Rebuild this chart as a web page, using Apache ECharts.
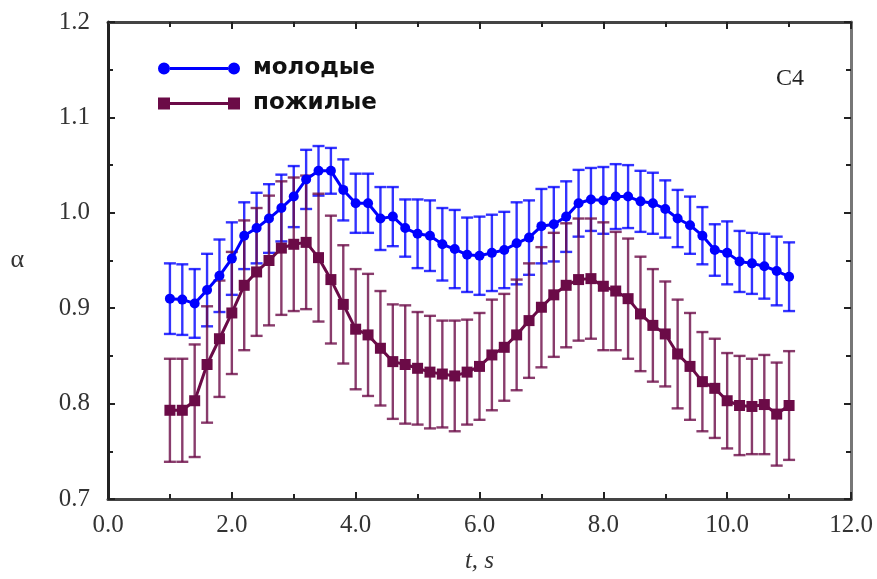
<!DOCTYPE html>
<html>
<head>
<meta charset="utf-8">
<script src="https://cdn.jsdelivr.net/npm/echarts@6/dist/echarts.min.js"></script>
<style>
  html, body { margin: 0; padding: 0; background: #fff; }
  #chart { width: 877px; height: 579px; }
</style>
</head>
<body>
<div id="chart"></div>
<script>
// время, с
const tVals = [1.0, 1.2, 1.4, 1.6, 1.8, 2.0, 2.2, 2.4, 2.6, 2.8,
    3.0, 3.2, 3.4, 3.6, 3.8, 4.0, 4.2, 4.4, 4.6, 4.8,
    5.0, 5.2, 5.4, 5.6, 5.8, 6.0, 6.2, 6.4, 6.6, 6.8,
    7.0, 7.2, 7.4, 7.6, 7.8, 8.0, 8.2, 8.4, 8.6, 8.8,
    9.0, 9.2, 9.4, 9.6, 9.8, 10.0, 10.2, 10.4, 10.6, 10.8, 11.0];

// молодые
const youngMean = [0.910, 0.909, 0.905, 0.919, 0.934, 0.952, 0.976, 0.984, 0.994, 1.005,
    1.017, 1.035, 1.044, 1.044, 1.024, 1.010, 1.010, 0.994, 0.996, 0.984,
    0.978, 0.976, 0.967, 0.962, 0.956, 0.955, 0.958, 0.961, 0.968, 0.974,
    0.986, 0.988, 0.996, 1.010, 1.014, 1.013, 1.017, 1.017, 1.012, 1.010,
    1.004, 0.994, 0.987, 0.976, 0.961, 0.958, 0.949, 0.947, 0.944, 0.939, 0.933];
const youngErr = [0.037, 0.037, 0.036, 0.038, 0.038, 0.038, 0.035, 0.037, 0.036, 0.035,
    0.032, 0.031, 0.026, 0.024, 0.032, 0.031, 0.031, 0.033, 0.031, 0.030,
    0.036, 0.037, 0.038, 0.041, 0.039, 0.041, 0.040, 0.040, 0.043, 0.039,
    0.039, 0.039, 0.037, 0.035, 0.033, 0.035, 0.034, 0.033, 0.032, 0.032,
    0.030, 0.030, 0.030, 0.030, 0.027, 0.033, 0.032, 0.032, 0.034, 0.036, 0.036];

// пожилые
const oldMean = [0.793, 0.793, 0.803, 0.841, 0.868, 0.895, 0.924, 0.938, 0.950, 0.963,
    0.967, 0.969, 0.953, 0.930, 0.904, 0.878, 0.872, 0.858, 0.844, 0.841,
    0.837, 0.833, 0.831, 0.829, 0.833, 0.839, 0.851, 0.859, 0.872, 0.887,
    0.901, 0.914, 0.924, 0.930, 0.931, 0.923, 0.918, 0.910, 0.894, 0.882,
    0.873, 0.852, 0.839, 0.823, 0.816, 0.803, 0.798, 0.797, 0.799, 0.789, 0.798];
const oldErr = [0.054, 0.054, 0.059, 0.061, 0.061, 0.064, 0.068, 0.067, 0.068, 0.070,
    0.070, 0.070, 0.067, 0.067, 0.062, 0.063, 0.064, 0.060, 0.060, 0.062,
    0.059, 0.059, 0.056, 0.058, 0.055, 0.056, 0.058, 0.056, 0.058, 0.060,
    0.063, 0.065, 0.065, 0.064, 0.063, 0.067, 0.062, 0.063, 0.060, 0.059,
    0.055, 0.057, 0.056, 0.052, 0.052, 0.050, 0.052, 0.050, 0.052, 0.054, 0.057];

const BLUE = '#0000ff';
const PLUM = '#6b0b47';

const chart = echarts.init(document.getElementById('chart'));

const meanData = (m) => tVals.map((t, i) => [t, m[i]]);
const errData = (m, e) => tVals.map((t, i) => [t, m[i] - e[i], m[i] + e[i]]);

// усы погрешностей
const errBars = (color) => (params, api) => {
    const x = api.value(0);
    const lo = api.coord([x, api.value(1)]);
    const hi = api.coord([x, api.value(2)]);
    const w = 6;
    const style = { stroke: color, lineWidth: 2.4, opacity: 0.8 };
    return {
        type: 'group',
        children: [
            { type: 'line', shape: { x1: lo[0], y1: lo[1], x2: hi[0], y2: hi[1] }, style },
            { type: 'line', shape: { x1: hi[0] - w, y1: hi[1], x2: hi[0] + w, y2: hi[1] }, style },
            { type: 'line', shape: { x1: lo[0] - w, y1: lo[1], x2: lo[0] + w, y2: lo[1] }, style }
        ]
    };
};

const labelFont = { fontFamily: 'Liberation Serif', fontSize: 25, color: '#333' };

const xBase = {
    type: 'value', min: 0, max: 12, interval: 2,
    splitLine: { show: false },
    axisLine: { onZero: false, lineStyle: { color: '#444', width: 3 } },
    axisTick: { inside: true, length: 7, lineStyle: { color: '#222', width: 2 } },
    minorTick: { show: true, splitNumber: 2, length: 5, lineStyle: { color: '#222', width: 2 } }
};
const yBase = {
    type: 'value', min: 0.7, max: 1.2, interval: 0.1,
    splitLine: { show: false },
    axisLine: { onZero: false, lineStyle: { color: '#222', width: 3 } },
    axisTick: { inside: true, length: 7, lineStyle: { color: '#222', width: 2 } },
    minorTick: { show: true, splitNumber: 2, length: 5, lineStyle: { color: '#222', width: 2 } }
};

// иконки легенды: линия с маркерами на концах
const dotIcon = 'path://M0,6a6,6 0 1,0 12,0a6,6 0 1,0 -12,0Z M12,4.5L70,4.5L70,7.5L12,7.5Z M70,6a6,6 0 1,0 12,0a6,6 0 1,0 -12,0Z';
const sqIcon = 'path://M0,0L12,0L12,12L0,12Z M12,4.5L70,4.5L70,7.5L12,7.5Z M70,0L82,0L82,12L70,12Z';

chart.setOption({
    animation: false,
    backgroundColor: '#fff',
    grid: { left: 108, right: 26, top: 22, bottom: 73 },
    title: {
        text: 'C4', right: 68, top: 62,
        textStyle: { fontFamily: 'Liberation Serif', fontSize: 24, fontWeight: 'normal', color: '#222' }
    },
    legend: {
        orient: 'vertical', left: 153, top: 52,
        itemWidth: 82, itemHeight: 12, itemGap: 12,
        textStyle: { fontFamily: 'DejaVu Sans', fontSize: 23, fontWeight: 'bold', color: '#111', padding: [0, 0, 0, 8] },
        data: [
            { name: 'молодые', icon: dotIcon },
            { name: 'пожилые', icon: sqIcon }
        ]
    },
    xAxis: [
        {
            ...xBase, position: 'bottom',
            name: 't, s', nameLocation: 'middle', nameGap: 50,
            nameTextStyle: { fontFamily: 'Liberation Serif', fontSize: 25, fontStyle: 'italic', color: '#333' },
            axisLabel: { ...labelFont, margin: 14, formatter: v => v.toFixed(1) }
        },
        { ...xBase, position: 'top', axisLabel: { show: false } }
    ],
    yAxis: [
        {
            ...yBase, position: 'left',
            name: 'α', nameLocation: 'middle', nameGap: 84, nameRotate: 0,
            nameTextStyle: { fontFamily: 'Liberation Serif', fontSize: 26, color: '#333' },
            axisLabel: { ...labelFont, margin: 18, formatter: v => v.toFixed(1) }
        },
        {
            ...yBase, position: 'right',
            axisLine: { onZero: false, lineStyle: { color: '#777', width: 3 } },
            axisLabel: { show: false }
        }
    ],
    series: [
        {
            type: 'custom', name: 'err-young', silent: true,
            renderItem: errBars(BLUE), encode: { x: 0, y: [1, 2] },
            data: errData(youngMean, youngErr), z: 1
        },
        {
            type: 'custom', name: 'err-old', silent: true,
            renderItem: errBars(PLUM), encode: { x: 0, y: [1, 2] },
            data: errData(oldMean, oldErr), z: 1
        },
        {
            name: 'молодые', type: 'line', data: meanData(youngMean),
            symbol: 'circle', symbolSize: 10, z: 3,
            lineStyle: { color: BLUE, width: 3 }, itemStyle: { color: BLUE }
        },
        {
            name: 'пожилые', type: 'line', data: meanData(oldMean),
            symbol: 'rect', symbolSize: 11, z: 4,
            lineStyle: { color: PLUM, width: 3 }, itemStyle: { color: PLUM }
        }
    ]
});
</script>
</body>
</html>
